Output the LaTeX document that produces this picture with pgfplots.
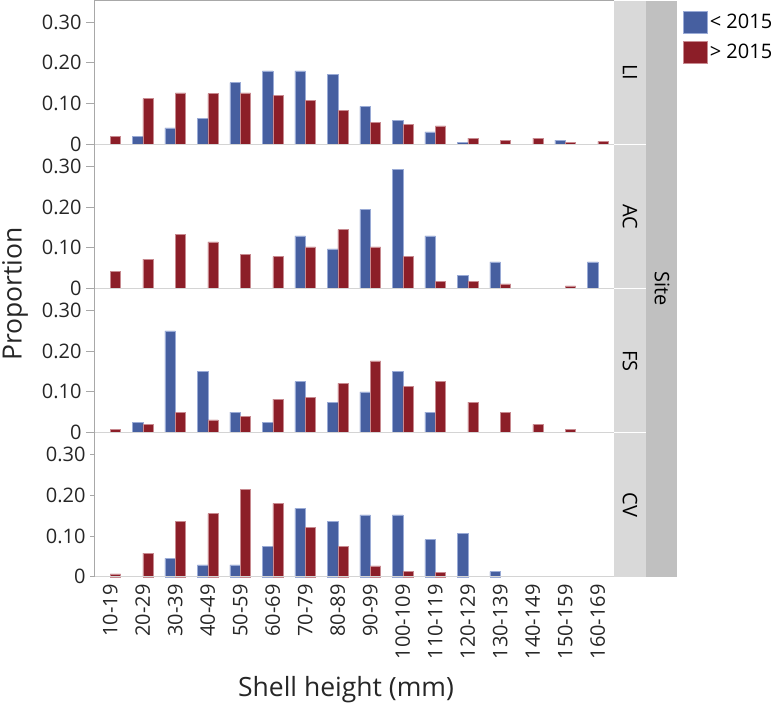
\documentclass[border=0pt]{standalone}
\usepackage{fontspec}
\setmainfont{Open Sans}
\usepackage{pgfplots}
\pgfplotsset{compat=1.18}
\definecolor{cblue}{HTML}{465FA0}
\definecolor{cred}{HTML}{8C1E28}
\definecolor{cblueedge}{HTML}{9AABD6}
\definecolor{crededge}{HTML}{C88A90}
\definecolor{stripA}{HTML}{D9D9D9}
\definecolor{stripB}{HTML}{C0C0C0}
\definecolor{axgray}{HTML}{A8A8A8}
\definecolor{zgray}{HTML}{D4D4D4}
\newcommand{\tickfont}{\fontsize{20}{22}\selectfont}
\newcommand{\labfont}{\fontsize{26.5}{28}\selectfont}
\pgfplotsset{
  panel/.style={
    at={(94pt,#1)}, anchor=south west,
    width=520pt, height=144.2pt, scale only axis,
    xmin=-0.5, xmax=15.5, ymin=0, ymax=0.354,
    axis line style={draw=none},
    clip=false,
    ytick={0,0.1,0.2,0.3},
    yticklabels={0,0.10,0.20,0.30},
    ytick pos=left,
    tick align=outside,
    major tick length=8pt,
    y tick style={axgray, line width=0.8pt},
    x tick style={draw=none},
    yticklabel style={font=\tickfont, text=black!85, xshift=-1pt},
    xtick=\empty,
  },
  bblue/.style={ybar, bar width=0.32, bar shift=-0.16, fill=cblue, draw=cblueedge, line width=0.5pt},
  bred/.style={ybar, bar width=0.32, bar shift=0.16, fill=cred, draw=crededge, line width=0.5pt},
}
\begin{document}
\begin{tikzpicture}[x=1pt,y=1pt]
\useasboundingbox (0,0) rectangle (780,705);
% strips
\fill[stripB] (646,128) rectangle (677,704);
\fill[stripA] (614,560.9) rectangle (645.5,704);
\fill[stripA] (614,416.7) rectangle (645.5,560.1);
\fill[stripA] (614,272.5) rectangle (645.5,415.9);
\fill[stripA] (614,128) rectangle (645.5,271.7);
\node[rotate=-90, font=\tickfont] at (630,632.5) {LI};
\node[rotate=-90, font=\tickfont] at (630,488.3) {AC};
\node[rotate=-90, font=\tickfont] at (630,344.1) {FS};
\node[rotate=-90, font=\tickfont] at (630,199.9) {CV};
\node[rotate=-90, font=\tickfont] at (662,416) {Site};
% panel LI
\begin{axis}[panel=560.8pt,
  legend style={at={(1.133,0.925)}, anchor=north west, draw=none, fill=none,
    font=\tickfont, inner sep=0pt, row sep=7pt,
    nodes={inner sep=2pt}},
  legend image code/.code={\fill[#1] (0pt,-11pt) rectangle (24pt,11pt);},
  legend cell align=left]
\addplot[bblue] coordinates {(1,0.020) (2,0.040) (3,0.064) (4,0.151) (5,0.180) (6,0.180) (7,0.171) (8,0.093) (9,0.059) (10,0.030) (11,0.005) (14,0.010)};
\addplot[bred] coordinates {(0,0.020) (1,0.112) (2,0.126) (3,0.124) (4,0.126) (5,0.120) (6,0.107) (7,0.083) (8,0.053) (9,0.048) (10,0.045) (11,0.015) (12,0.010) (13,0.015) (14,0.004) (15,0.007)};
\legend{{<\ 2015},{>\ 2015}}
\draw[zgray, line width=0.8pt] (axis cs:-0.5,0) -- (axis cs:15.5,0);
\draw[axgray, line width=0.8pt] (axis cs:-0.5,0.354) -- (axis cs:15.5,0.354);
\end{axis}
% panel AC
\begin{axis}[panel=416.6pt]
\addplot[bblue] coordinates {(6,0.129) (7,0.097) (8,0.194) (9,0.292) (10,0.129) (11,0.032) (12,0.065) (15,0.065)};
\addplot[bred] coordinates {(0,0.042) (1,0.072) (2,0.132) (3,0.114) (4,0.084) (5,0.078) (6,0.102) (7,0.144) (8,0.102) (9,0.078) (10,0.018) (11,0.018) (12,0.011) (14,0.006)};
\draw[zgray, line width=0.8pt] (axis cs:-0.5,0) -- (axis cs:15.5,0);
\end{axis}
% panel FS
\begin{axis}[panel=272.4pt]
\addplot[bblue] coordinates {(1,0.025) (2,0.250) (3,0.150) (4,0.050) (5,0.025) (6,0.125) (7,0.075) (8,0.100) (9,0.150) (10,0.050)};
\addplot[bred] coordinates {(0,0.007) (1,0.020) (2,0.050) (3,0.031) (4,0.040) (5,0.082) (6,0.086) (7,0.121) (8,0.176) (9,0.113) (10,0.125) (11,0.075) (12,0.050) (13,0.020) (14,0.007)};
\draw[zgray, line width=0.8pt] (axis cs:-0.5,0) -- (axis cs:15.5,0);
\end{axis}
% panel CV
\begin{axis}[panel=128.2pt,
  xtick={0,...,15},
  xticklabels={10-19,20-29,30-39,40-49,50-59,60-69,70-79,80-89,90-99,100-109,110-119,120-129,130-139,140-149,150-159,160-169},
  xticklabel style={rotate=90, anchor=east, font=\tickfont, text=black!85, xshift=0pt},
  major tick length=4pt]
\addplot[bblue] coordinates {(2,0.045) (3,0.029) (4,0.029) (5,0.075) (6,0.168) (7,0.136) (8,0.152) (9,0.152) (10,0.091) (11,0.106) (12,0.013)};
\addplot[bred] coordinates {(0,0.007) (1,0.058) (2,0.136) (3,0.155) (4,0.215) (5,0.180) (6,0.121) (7,0.074) (8,0.027) (9,0.014) (10,0.011)};
\draw[zgray, line width=0.8pt] (axis cs:-0.5,0) -- (axis cs:15.5,0);
\end{axis}
% left axis line
\draw[axgray, line width=0.8pt] (94,128.2) -- (94,704.2);
% axis titles
\node[rotate=90, font=\labfont, text=black!85, anchor=base, inner sep=0pt] at (21.5,411) {Proportion};
\node[font=\labfont, text=black!85, anchor=base] at (346,9) {Shell height (mm)};
\end{tikzpicture}
\end{document}
